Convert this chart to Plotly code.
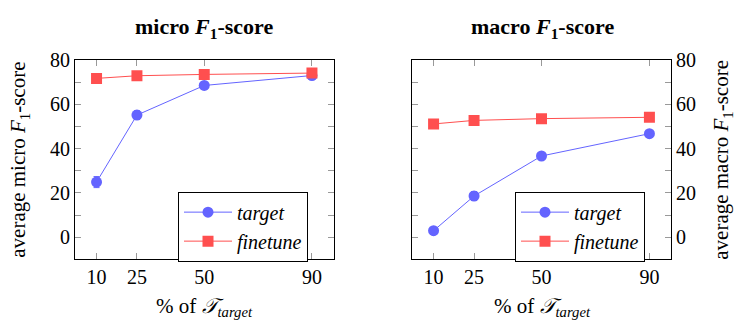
import plotly.graph_objects as go

x_pct = [10, 25, 50, 90]
x_ticks = [10, 25, 50, 90]
y_ticks = [0, 20, 40, 60, 80]

micro_target = [24.9, 55.2, 68.6, 73.1]
micro_target_err = [2.5, 2.0, 1.0, 0.8]
micro_finetune = [71.8, 73.0, 73.6, 74.2]
micro_finetune_err = [0.6, 0.5, 0.5, 0.5]

macro_target = [2.9, 18.6, 36.7, 46.8]
macro_target_err = [0.8, 2.0, 1.2, 1.2]
macro_finetune = [51.2, 52.8, 53.6, 54.2]
macro_finetune_err = [0.6, 0.5, 0.5, 0.5]

BLUE = "#6464ff"
RED = "#ff4f4f"
FONT = "Liberation Serif"

fig = go.Figure()

def add_series(y, err, name, color, symbol, size, xa, ya, legend):
    fig.add_trace(go.Scatter(
        x=x_pct, y=y, name=name, mode="lines+markers",
        line=dict(color=color, width=1),
        marker=dict(color=color, symbol=symbol, size=size, line=dict(width=0)),
        error_y=dict(type="data", array=err, color=color, thickness=1, width=3),
        xaxis=xa, yaxis=ya, legend=legend, showlegend=True,
    ))

add_series(micro_target, micro_target_err, "<i>target</i>", BLUE, "circle", 11, "x", "y", "legend")
add_series(micro_finetune, micro_finetune_err, "<i>finetune</i>", RED, "square", 11, "x", "y", "legend")
add_series(macro_target, macro_target_err, "<i>target</i>", BLUE, "circle", 11, "x2", "y2", "legend2")
add_series(macro_finetune, macro_finetune_err, "<i>finetune</i>", RED, "square", 11, "x2", "y2", "legend2")

axis_common = dict(
    showline=True, linecolor="black", linewidth=1, mirror="ticks",
    ticks="inside", tickcolor="#999999", ticklen=6, tickwidth=1,
    showgrid=False, zeroline=False,
    tickfont=dict(family=FONT, size=20, color="black"),
)

xd1 = [75 / 736, 333.5 / 736]
xd2 = [412 / 736, 671 / 736]
yd = [1 - 257 / 323, 1 - 51 / 323]
minor_y = dict(tickvals=[-10, 10, 30, 50, 70], ticks="inside", ticklen=6, tickcolor="#999999")

legend_common = dict(xanchor="left", yanchor="top", bordercolor="black", borderwidth=1,
                     bgcolor="white", font=dict(family=FONT, size=20), itemwidth=48,
                     tracegroupgap=0)

fig.update_layout(
    width=736, height=323,
    margin=dict(l=0, r=0, t=0, b=0),
    paper_bgcolor="white", plot_bgcolor="white",
    font=dict(family=FONT, color="black"),
    xaxis=dict(domain=xd1, range=[2, 98], tickvals=x_ticks, anchor="y", **axis_common),
    yaxis=dict(domain=yd, range=[-10, 80], tickvals=y_ticks, anchor="x", minor=minor_y, **axis_common),
    xaxis2=dict(domain=xd2, range=[2, 98], tickvals=x_ticks, anchor="y2", **axis_common),
    yaxis2=dict(domain=yd, range=[-10, 80], tickvals=y_ticks, anchor="x2", side="right",
                minor=minor_y, **axis_common),
    legend=dict(x=178 / 736, y=1 - 187 / 323, **legend_common),
    legend2=dict(x=515 / 736, y=1 - 187 / 323, **legend_common),
)

ann_font = dict(family=FONT, size=21, color="black")
title_font = dict(family=FONT, size=22, color="black")
xlabel = "% of <i>𝒯</i><sub><i>target</i></sub>"

def ann(text, x, y, font, angle=0):
    fig.add_annotation(text=text, x=x / 736, y=1 - y / 323, xref="paper", yref="paper",
                       xanchor="center", yanchor="middle", showarrow=False,
                       textangle=angle, font=font)

ann("<b>micro <i>F</i><sub>1</sub>-score</b>", 204, 18, title_font)
ann("<b>macro <i>F</i><sub>1</sub>-score</b>", 542, 18, title_font)
ann(xlabel, 204, 306, ann_font)
ann(xlabel, 542, 306, ann_font)
ann("average micro <i>F</i><sub>1</sub>-score", 19, 154, ann_font, -90)
ann("average macro <i>F</i><sub>1</sub>-score", 722, 154, ann_font, -90)

fig.write_html("out.html", config={"displayModeBar": False},
               post_script="document.body.style.margin='0';")
